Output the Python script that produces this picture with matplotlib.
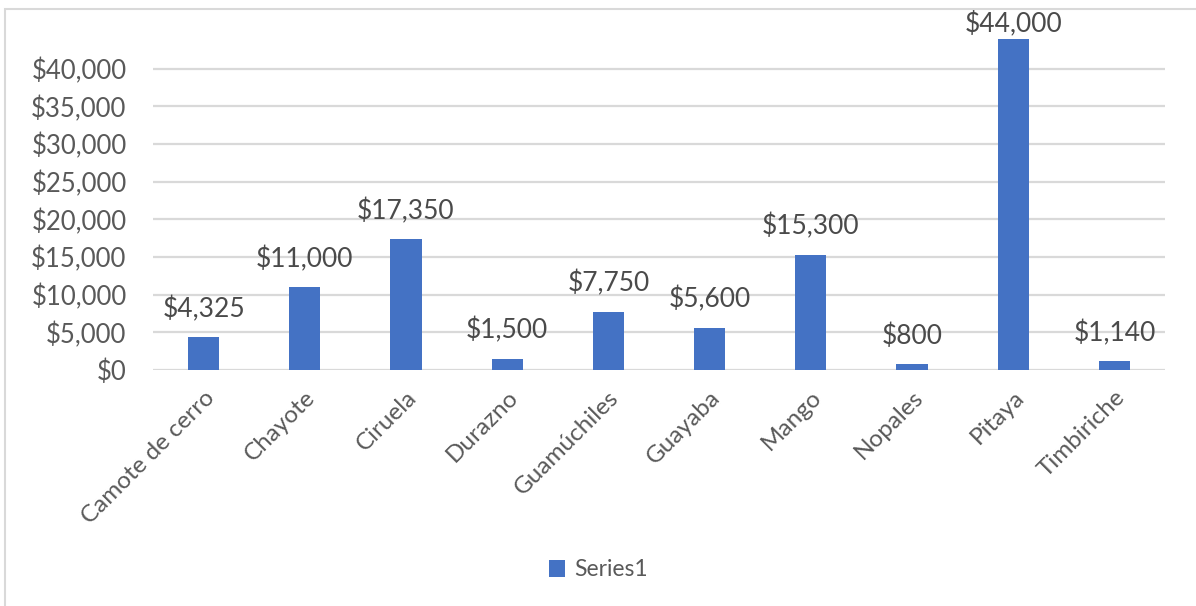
import matplotlib
matplotlib.use("Agg")
import matplotlib.pyplot as plt
import matplotlib.patches as patches
import numpy as np

categories = ["Camote de cerro", "Chayote", "Ciruela", "Durazno", "Guamúchiles",
              "Guayaba", "Mango", "Nopales", "Pitaya", "Timbiriche"]
values = [4325, 11000, 17350, 1500, 7750, 5600, 15300, 800, 44000, 1140]
yticks = [0, 5000, 10000, 15000, 20000, 25000, 30000, 35000, 40000]

bar_color = "#4472C4"
grid_color = "#D9D9D9"
text_color = "#595959"

plt.rcParams['font.family'] = ['Lato', 'DejaVu Sans']

fig = plt.figure(figsize=(11.96, 6.06), dpi=100)
ax = fig.add_axes([153 / 1196, 1 - 370 / 606, (1165 - 153) / 1196, (370 - 31) / 606])

x = np.arange(len(categories))
ax.bar(x, values, width=0.31, color=bar_color, zorder=3, label="Series1")

ax.set_xlim(-0.5, len(categories) - 0.5)
ax.set_ylim(0, 45000)
ax.set_yticks(yticks)
ax.set_yticklabels(["${:,}".format(v) for v in yticks])
for t in yticks:
    ax.axhline(t, color=grid_color, linewidth=1.6, zorder=1)

ax.set_xticks(x)
ax.set_xticklabels(categories, rotation=45, ha="right", va="top", rotation_mode="anchor")
ax.tick_params(axis="x", length=0, pad=12, labelsize=17.5, labelcolor=text_color)
ax.tick_params(axis="y", length=0, pad=19, labelsize=18.5, labelcolor=text_color)
for s in ax.spines.values():
    s.set_visible(False)

# data labels
for xi, v in zip(x, values):
    off = 1 if v > 42000 else 11
    ax.annotate("${:,}".format(v), (xi, v), xytext=(0, off), textcoords="offset points",
                ha="center", va="bottom", fontsize=19, color="#4a4a4a",
                annotation_clip=False, zorder=4)

ax.legend(loc="center", bbox_to_anchor=(0.5, 1 - 570 / 606), bbox_transform=fig.transFigure,
          frameon=False, fontsize=16.5, labelcolor=text_color, handlelength=0.7,
          handleheight=0.7, handletextpad=0.4)

# chart border
border = patches.Rectangle((5 / 1196, -0.1), 1.2, 1.1 - 9 / 606, transform=fig.transFigure,
                           fill=False, edgecolor=grid_color, linewidth=1.5)
fig.patches.append(border)

fig.savefig("out.png", dpi=100)
